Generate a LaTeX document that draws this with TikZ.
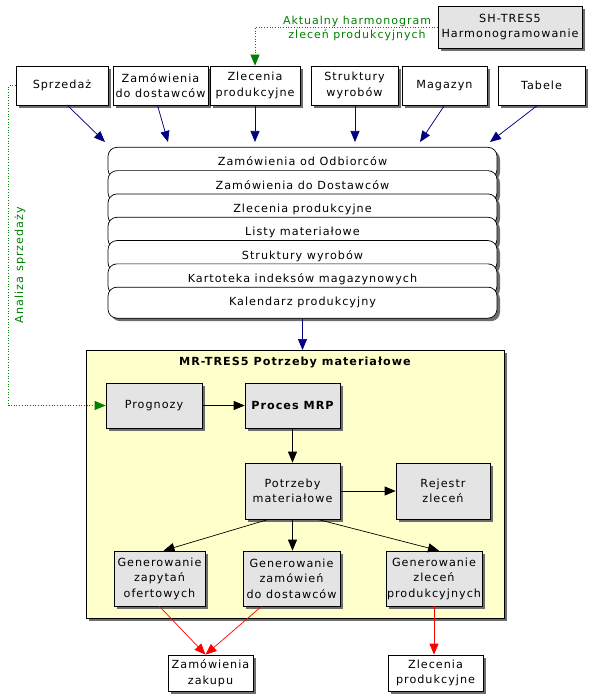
\documentclass[tikz,border=0pt]{standalone}
\usepackage{fontspec}
\setmainfont{DejaVu Sans}[LetterSpace=9]
\usetikzlibrary{arrows.meta,shadows}

\definecolor{navy}{RGB}{0,0,128}
\definecolor{flowgreen}{RGB}{0,128,0}
\definecolor{mrpyellow}{RGB}{255,255,204}
\definecolor{procgray}{RGB}{228,228,228}
\definecolor{shadowgray}{RGB}{110,110,110}

\tikzset{
    box/.style={draw, fill=white, align=center, inner sep=1pt,
        drop shadow={shadow xshift=3pt, shadow yshift=-3pt, fill=shadowgray, opacity=1}},
    procbox/.style={box, fill=procgray},
    dbrow/.style={box, rounded corners=9pt, minimum width=389, minimum height=31,
        text height=10pt, text depth=4pt, anchor=north},
    navyflow/.style={->, draw=navy, fill=navy},
    blackflow/.style={->, draw=black},
    redflow/.style={->, draw=red},
    greenflow/.style={->, draw=flowgreen, dotted},
}

\begin{document}
\begin{tikzpicture}[x=1pt, y=-1pt, line width=0.7pt, >={Triangle[length=11pt, width=9pt]},
    font=\fontsize{11.2}{15.5}\selectfont]
    \useasboundingbox (0,0) rectangle (590,700);

    % Harmonogram module at the top right
    \node[procbox, minimum width=144, minimum height=42] (sh) at (510,27) {SH-TRES5\\Harmonogramowanie};
    \node[text=flowgreen, align=center, font=\fontsize{11}{14}\selectfont] (akt) at (357,28.5) {Aktualny harmonogram\\zleceń produkcyjnych};

    % Source tables
    \node[box, minimum width=92, minimum height=39] (sprz) at (62,85.5) {Sprzedaż};
    \node[box, minimum width=95, minimum height=39] (zamd) at (160.5,85.5) {Zamówienia\\do dostawców};
    \node[box, minimum width=90, minimum height=39] (zlec) at (255,85.5) {Zlecenia\\produkcyjne};
    \node[box, minimum width=87, minimum height=39] (strk) at (354.5,85.5) {Struktury\\wyrobów};
    \node[box, minimum width=85, minimum height=39] (mag) at (444.5,85.5) {Magazyn};
    \node[box, minimum width=87, minimum height=39] (tab) at (541.5,85.5) {Tabele};

    % Stack of data files
    \foreach \txt [count=\i from 0] in {Zamówienia od Odbiorców, Zamówienia do Dostawców,
        Zlecenia produkcyjne, Listy materiałowe, Struktury wyrobów,
        Kartoteka indeksów magazynowych, Kalendarz produkcyjny}
        \node[dbrow] (db\i) at (302.5,{147+23.3*\i}) {\txt};

    % Ends of the input arrows on top of the stack
    \coordinate (in1) at (105,142);
    \coordinate (in2) at (168,142);
    \coordinate (in3) at (255,142);
    \coordinate (in4) at (355,142);
    \coordinate (in5) at (420,142);
    \coordinate (in6) at (490,142);

    % MRP module
    \node[box, fill=mrpyellow, minimum width=418, minimum height=268, anchor=north west] (mrp) at (86,350) {};
    \node[font=\fontsize{11.2}{14}\selectfont\bfseries] (mrpt) at (295,362) {MR-TRES5 Potrzeby materiałowe};

    \node[procbox, minimum width=96, minimum height=45] (prog) at (154,405.5) {Prognozy};
    \node[procbox, minimum width=95, minimum height=45] (proc) at (292.5,405.5) {\bfseries Proces MRP};
    \node[procbox, minimum width=95, minimum height=56] (potr) at (292.5,491) {Potrzeby\\materiałowe};
    \node[procbox, minimum width=94, minimum height=56] (rej) at (443,491) {Rejestr\\zleceń};
    \node[procbox, minimum width=91, minimum height=55] (gen1) at (159.5,578.5) {Generowanie\\zapytań\\ofertowych};
    \node[procbox, minimum width=97, minimum height=55] (gen2) at (291.5,578.5) {Generowanie\\zamówień\\do dostawców};
    \node[procbox, minimum width=96, minimum height=55] (gen3) at (434,578.5) {Generowanie\\zleceń\\produkcyjnych};

    % Results
    \node[box, minimum width=85, minimum height=36] (zak) at (210.5,673) {Zamówienia\\zakupu};
    \node[box, minimum width=95, minimum height=36] (zpr) at (435.5,673) {Zlecenia\\produkcyjne};

    % Inputs to the stack
    \draw[navyflow] (67,105) -- (in1);
    \draw[navyflow] (zamd.south) ++(-3,0) -- (in2);
    \draw[navyflow] (zlec.south) -- (in3);
    \draw[navyflow] (strk.south) ++(0.5,0) -- (in4);
    \draw[navyflow] (mag.south) -- (in5);
    \draw[navyflow] (tab.south) ++(-4,0) -- (in6);
    \draw[navyflow] (db6.south) -- (db6.south |- mrp.north);

    % Flows inside the module
    \draw[blackflow] (prog) -- (proc);
    \draw[blackflow] (proc) -- (potr);
    \draw[blackflow] (potr) -- (rej);
    \draw[blackflow] ([xshift=-24pt]potr.south) -- ([xshift=4pt]gen1.north);
    \draw[blackflow] (potr.south) -- (potr.south |- gen2.north);
    \draw[blackflow] ([xshift=25pt]potr.south) -- ([xshift=5pt]gen3.north);

    % Outputs
    \draw[redflow] (gen1.south) -- ([xshift=-5pt]zak.north);
    \draw[redflow] ([xshift=-30pt]gen2.south) -- ([xshift=-5pt]zak.north);
    \draw[redflow] (gen3.south) -- (gen3.south |- zpr.north);

    % Dotted information flows
    \draw[greenflow] (sh.west) -| (zlec.north);
    \draw[greenflow] (sprz.west) -- ++(-7,0) |- (prog.west);
    \node[text=flowgreen, rotate=90] (anal) at (20,265) {Analiza sprzedaży};
\end{tikzpicture}
\end{document}
